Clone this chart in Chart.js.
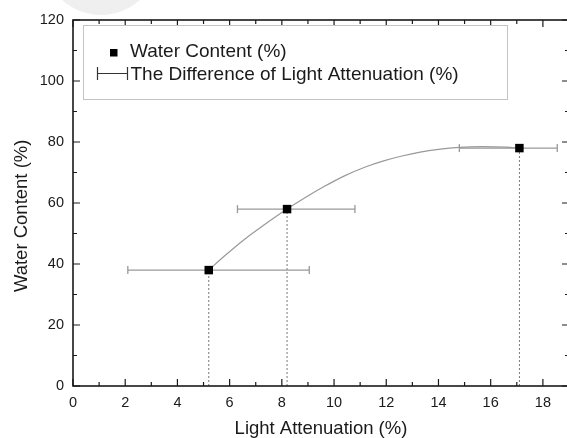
<!DOCTYPE html>
<html>
<head>
<meta charset="utf-8">
<script src="https://cdn.jsdelivr.net/npm/chart.js@4.4.1/dist/chart.umd.min.js"></script>
<style>
  html, body { margin: 0; padding: 0; background: #fff; overflow: hidden; }
  #wrap { width: 575px; height: 438px; }
</style>
</head>
<body>
<div id="wrap"><canvas id="chart" width="575" height="438"></canvas></div>
<script>
// Messpunkte
const lightAttenuation = [5.2, 8.2, 17.1];
const waterContent = [38, 58, 78];
const attenuationLow = [2.1, 6.3, 14.8];
const attenuationHigh = [9.05, 10.8, 18.55];

const curveX = [5.2, 5.8, 6.6, 7.3, 8.2, 8.9, 9.6, 10.4, 11.2, 11.9, 12.6, 13.3, 14.0, 14.8, 15.7, 16.6, 17.1];
const curveY = [38, 42.6, 48.3, 52.7, 58, 61.8, 65.3, 68.9, 71.8, 73.8, 75.4, 76.7, 77.6, 78.25, 78.5, 78.3, 78];

const xTickValues = [0, 2, 4, 6, 8, 10, 12, 14, 16, 18];
const xMinorValues = [1, 3, 5, 7, 9, 11, 13, 15, 17];
const yTickValues = [0, 20, 40, 60, 80, 100, 120];
const yMinorValues = [10, 30, 50, 70, 90, 110];

const legendLabels = ["Water Content (%)", "The Difference of Light Attenuation (%)"];
const xTitle = "Light Attenuation (%)";
const yTitle = "Water Content (%)";

const FONT = '"Liberation Sans", Arial, sans-serif';
const INK = "#1a1a1a";

const datasets = [];

lightAttenuation.forEach((x, i) => {
  datasets.push({
    data: [{ x: x, y: 0 }, { x: x, y: waterContent[i] }],
    borderColor: "#777",
    borderWidth: 1,
    borderDash: [2, 2],
    pointRadius: 0,
    order: 4,
  });
  datasets.push({
    data: [{ x: attenuationLow[i], y: waterContent[i] }, { x: attenuationHigh[i], y: waterContent[i] }],
    borderColor: "#999",
    borderWidth: 1.3,
    pointStyle: "line",
    pointRotation: 90,
    pointRadius: 4,
    pointBorderColor: "#999",
    pointBorderWidth: 1.3,
    order: 3,
  });
});

datasets.push({
  data: curveX.map((x, i) => ({ x: x, y: curveY[i] })),
  borderColor: "#999",
  borderWidth: 1.2,
  pointRadius: 0,
  cubicInterpolationMode: "monotone",
  order: 2,
});

datasets.push({
  data: lightAttenuation.map((x, i) => ({ x: x, y: waterContent[i] })),
  showLine: false,
  pointStyle: "rect",
  pointRadius: 6,
  backgroundColor: "#000",
  borderColor: "#000",
  pointBorderWidth: 0,
  order: 0,
});

const framePlugin = {
  id: "frame",
  beforeDraw(chart) {
    // blasser Fleck oben links
    const ctx = chart.ctx;
    ctx.save();
    ctx.fillStyle = "#efefef";
    ctx.beginPath();
    ctx.arc(101, -43, 58, 0, Math.PI * 2);
    ctx.fill();
    ctx.restore();
  },
  afterDatasetsDraw(chart) {
    const { ctx, chartArea: a, scales } = chart;
    const x = scales.x, y = scales.y;
    ctx.save();
    ctx.strokeStyle = INK;
    ctx.lineWidth = 1.2;
    ctx.beginPath();
    const xt = (v, len) => {
      const px = x.getPixelForValue(v);
      ctx.moveTo(px, a.bottom); ctx.lineTo(px, a.bottom - len);
      ctx.moveTo(px, a.top); ctx.lineTo(px, a.top + len);
    };
    const yt = (v, len) => {
      const py = y.getPixelForValue(v);
      ctx.moveTo(a.left, py); ctx.lineTo(a.left + len, py);
      ctx.moveTo(a.right, py); ctx.lineTo(a.right - len, py);
    };
    xTickValues.forEach((v) => xt(v, 7));
    xMinorValues.forEach((v) => xt(v, 4));
    yTickValues.forEach((v) => yt(v, 7));
    yMinorValues.forEach((v) => yt(v, 4));
    ctx.stroke();
    ctx.lineWidth = 1.6;
    ctx.strokeRect(a.left, a.top, a.right - a.left, a.bottom - a.top);
    ctx.restore();
  },
  afterDraw(chart) {
    const ctx = chart.ctx;
    ctx.save();
    ctx.fillStyle = "#fff";
    ctx.fillRect(83, 25, 425, 75);
    ctx.strokeStyle = "#c4c4c4";
    ctx.lineWidth = 1;
    ctx.strokeRect(83.5, 25.5, 424, 74);

    ctx.fillStyle = "#000";
    ctx.fillRect(110, 49, 7.5, 7.5);

    ctx.strokeStyle = "#333";
    ctx.lineWidth = 1.2;
    ctx.beginPath();
    ctx.moveTo(97.5, 73.5); ctx.lineTo(127.5, 73.5);
    ctx.moveTo(97.5, 67); ctx.lineTo(97.5, 80);
    ctx.moveTo(127.5, 67); ctx.lineTo(127.5, 80);
    ctx.stroke();

    ctx.fillStyle = INK;
    ctx.font = "19px " + FONT;
    ctx.textBaseline = "alphabetic";
    ctx.fillText(legendLabels[0], 130, 56.5);
    ctx.fillText(legendLabels[1], 130.5, 80);
    ctx.restore();
  },
};

new Chart(document.getElementById("chart"), {
  type: "line",
  data: { datasets: datasets },
  plugins: [framePlugin],
  options: {
    responsive: false,
    animation: false,
    layout: { padding: { top: 20, right: 1, left: 0, bottom: 0 } },
    plugins: { legend: { display: false }, tooltip: { enabled: false } },
    scales: {
      x: {
        type: "linear",
        min: 0,
        max: 19,
        afterBuildTicks: (s) => { s.ticks = xTickValues.map((v) => ({ value: v })); },
        afterFit: (s) => { s.height = 52; },
        grid: { display: false, drawTicks: false },
        border: { display: false },
        ticks: { padding: 8, color: INK, font: { family: FONT, size: 14.5 }, maxRotation: 0 },
        title: {
          display: true,
          text: xTitle,
          color: INK,
          font: { family: FONT, size: 18.5, lineHeight: 1 },
          padding: { top: 0, bottom: 0 },
        },
      },
      y: {
        type: "linear",
        min: 0,
        max: 120,
        afterBuildTicks: (s) => { s.ticks = yTickValues.map((v) => ({ value: v })); },
        afterFit: (s) => { s.width = 73; },
        grid: { display: false, drawTicks: false },
        border: { display: false },
        ticks: { padding: 9, color: INK, font: { family: FONT, size: 14.5 } },
        title: {
          display: true,
          text: yTitle + "     ",
          color: INK,
          font: { family: FONT, size: 18.5, lineHeight: 1 },
          padding: { top: 12.7, bottom: 0 },
        },
      },
    },
  },
});
</script>
</body>
</html>
